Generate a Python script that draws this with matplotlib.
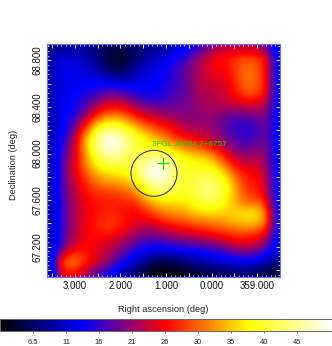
import numpy as np
import matplotlib
matplotlib.use('Agg')
import matplotlib.pyplot as plt
from matplotlib.colors import LinearSegmentedColormap, Normalize
from matplotlib.patches import Ellipse
from matplotlib.cm import ScalarMappable
from matplotlib.ticker import MultipleLocator

plt.rcParams['font.family'] = ['Liberation Sans', 'DejaVu Sans']

# counts map, top row first
counts = np.array([
    [7, 9, 9, 9, 8, 7, 5, 5, 6, 7, 8, 9, 10, 12, 14, 16, 19, 22, 23, 23, 23, 23, 20, 12],
    [10, 12, 12, 11, 10, 7, 4, 3, 5, 8, 10, 11, 13, 15, 17, 21, 24, 26, 27, 29, 30, 29, 27, 14],
    [10, 13, 13, 12, 11, 9, 6, 5, 7, 10, 12, 13, 15, 17, 19, 22, 24, 26, 26, 29, 31, 31, 27, 14],
    [10, 13, 13, 13, 13, 12, 10, 9, 10, 12, 13, 14, 15, 17, 19, 22, 24, 25, 25, 29, 31, 31, 27, 14],
    [10, 13, 13, 14, 14, 15, 16, 15, 14, 14, 14, 14, 16, 17, 19, 22, 23, 23, 24, 28, 31, 31, 27, 14],
    [10, 13, 14, 15, 17, 19, 21, 21, 19, 16, 15, 15, 17, 18, 19, 21, 22, 23, 24, 26, 28, 28, 25, 14],
    [10, 13, 14, 16, 20, 24, 26, 26, 24, 21, 20, 19, 19, 19, 20, 21, 22, 22, 22, 22, 23, 23, 22, 14],
    [10, 13, 15, 19, 25, 31, 33, 33, 30, 27, 24, 23, 22, 21, 20, 20, 21, 20, 19, 18, 18, 19, 20, 14],
    [10, 13, 16, 24, 32, 39, 41, 40, 37, 33, 30, 28, 26, 24, 22, 22, 21, 20, 18, 16, 16, 17, 19, 14],
    [10, 14, 19, 29, 38, 46, 50, 47, 43, 39, 36, 33, 30, 27, 25, 24, 23, 21, 19, 17, 16, 17, 19, 14],
    [10, 15, 21, 30, 39, 47, 50, 48, 44, 40, 39, 38, 36, 33, 31, 29, 27, 24, 21, 19, 18, 19, 20, 14],
    [10, 16, 22, 29, 37, 43, 46, 45, 42, 41, 43, 44, 42, 39, 37, 36, 35, 31, 26, 22, 21, 22, 21, 14],
    [10, 17, 23, 29, 35, 39, 41, 41, 41, 44, 48, 50, 47, 42, 39, 39, 38, 36, 31, 26, 24, 24, 22, 14],
    [10, 17, 23, 27, 32, 35, 36, 37, 38, 43, 49, 50, 47, 42, 40, 41, 42, 40, 36, 30, 27, 26, 23, 14],
    [10, 17, 22, 26, 29, 31, 32, 33, 34, 38, 44, 47, 45, 41, 40, 42, 44, 43, 39, 33, 28, 27, 24, 14],
    [10, 17, 21, 25, 27, 28, 28, 29, 30, 33, 38, 41, 41, 40, 40, 42, 44, 43, 39, 34, 29, 28, 25, 14],
    [10, 16, 21, 24, 26, 27, 27, 27, 27, 29, 32, 35, 36, 36, 37, 39, 41, 40, 37, 34, 32, 32, 29, 14],
    [10, 16, 21, 24, 26, 27, 28, 27, 26, 26, 28, 30, 32, 33, 34, 36, 36, 36, 36, 37, 38, 38, 33, 15],
    [10, 16, 21, 24, 26, 28, 29, 28, 26, 24, 24, 25, 27, 28, 29, 30, 31, 32, 33, 34, 35, 35, 32, 15],
    [10, 16, 21, 25, 26, 27, 27, 25, 23, 21, 20, 21, 22, 23, 24, 25, 26, 27, 28, 29, 29, 28, 26, 14],
    [10, 17, 22, 25, 26, 25, 24, 22, 20, 18, 16, 16, 17, 18, 18, 19, 20, 21, 23, 25, 25, 24, 21, 13],
    [10, 21, 27, 28, 26, 24, 22, 19, 16, 13, 12, 11, 11, 12, 13, 13, 14, 15, 16, 18, 19, 18, 15, 11],
    [11, 30, 33, 30, 26, 23, 20, 16, 13, 10, 7, 5, 5, 6, 7, 9, 10, 11, 12, 12, 13, 12, 10, 8],
    [9, 25, 27, 24, 20, 17, 14, 10, 8, 6, 3, 2, 2, 2, 3, 4, 5, 6, 6, 7, 7, 6, 5, 4],
])

xlabels = ['3.000', '2.000', '1.000', '0.000', '359.000']
xticks = [3, 2, 1, 0, -1]
yticks = [68.8, 68.4, 68.0, 67.6, 67.2]
ylabels = ['68.800', '68.400', '68.000', '67.600', '67.200']

cbar_ticks = [6.5, 11.35, 16.2, 21.05, 25.9, 30.75, 35.6, 40.45, 45.3]
cbar_labels = ['6.5', '11', '16', '21', '26', '30', '35', '40', '45']

src_ra, src_dec = 1.066, 67.92
roi_ra, roi_dec = 1.264, 67.83
label_ra, label_dec = 1.31, 68.08
src_name = '3FGL J0004.2+6757'

W, H = 332.0, 346.0

cmap = LinearSegmentedColormap.from_list('b', ['#000000', '#0000ff', '#ff0000', '#ffff00', '#ffffff'])
norm = Normalize(vmin=1.65, vmax=50.45)

fig = plt.figure(figsize=(W / 100, H / 100), dpi=100)
ax = fig.add_axes([47 / W, 1 - 277 / H, 233 / W, 233 / H])
ext = [3.615, -1.505, 66.94, 68.94]
ax.imshow(counts, cmap=cmap, norm=norm, extent=ext, aspect='auto', interpolation='bicubic')

# source marker, name and region circle
ax.plot([src_ra], [src_dec], '+', color='#00e000', ms=9, mew=0.8)
ax.text(label_ra, label_dec, src_name, color='#00e800', fontsize=5.9, ha='left', va='center')
ax.add_patch(Ellipse((roi_ra, roi_dec), 46 / 45.5, 46 / 116.5, fill=False, ec='#222222', lw=0.7))

ax.set_xlim(ext[0], ext[1])
ax.set_ylim(ext[2], ext[3])
ax.xaxis.set_major_locator(MultipleLocator(0.5))
ax.xaxis.set_major_formatter(plt.FuncFormatter(lambda v, p: xlabels[xticks.index(int(v))] if v in xticks else ''))
ax.xaxis.set_minor_locator(MultipleLocator(0.1))
ax.yaxis.set_major_locator(MultipleLocator(0.2))
ax.yaxis.set_major_formatter(plt.FuncFormatter(lambda v, p: ylabels[yticks.index(round(v, 1))] if round(v, 1) in yticks else ''))
ax.yaxis.set_minor_locator(MultipleLocator(0.04))
ax.tick_params(which='major', direction='in', top=True, right=True, length=3, width=0.6, color='white', pad=3, labelsize=7, labelcolor='#111111')
ax.tick_params(which='minor', direction='in', top=True, right=True, length=1.5, width=0.5, color='white')
plt.setp(ax.get_yticklabels(), rotation=90, va='center')
for s in ax.spines.values():
    s.set_color('#6a6af0')
    s.set_linewidth(0.8)

fig.text(163 / W, 1 - 310 / H, 'Right ascension (deg)', fontsize=6.7, ha='center', va='center', color='#222222')
fig.text(14 / W, 1 - 165 / H, 'Declination (deg)', fontsize=6.7, rotation=90, ha='center', va='center', color='#222222')

cax = fig.add_axes([0, 1 - 331 / H, 1, 12 / H])
cb = fig.colorbar(ScalarMappable(norm=norm, cmap=cmap), cax=cax, orientation='horizontal')
cb.set_ticks(cbar_ticks)
cb.set_ticklabels(cbar_labels)
cb.ax.tick_params(length=1.5, width=0.5, labelsize=5.4, pad=4, color='#444444', labelcolor='#222222')
cb.outline.set_edgecolor('#666666')
cb.outline.set_linewidth(0.7)

fig.savefig('out.png', dpi=100)
